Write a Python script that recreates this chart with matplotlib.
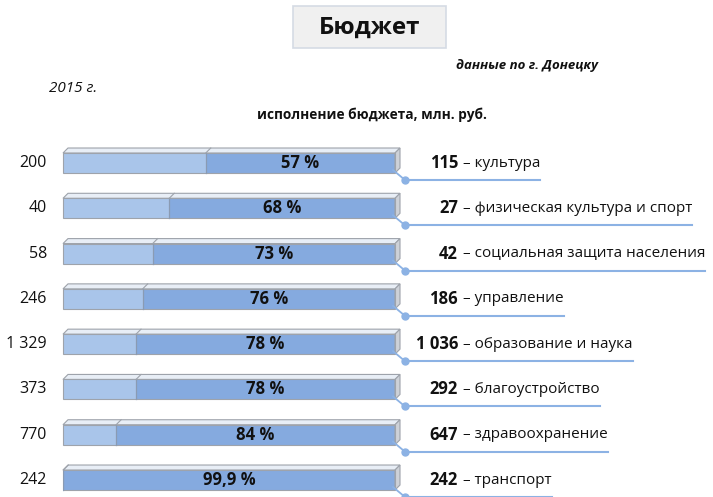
import matplotlib
matplotlib.use("Agg")
import matplotlib.pyplot as plt
from matplotlib.patches import Rectangle, Polygon

plt.rcParams['font.family'] = ['Open Sans', 'DejaVu Sans']

# ---- data ----
categories = ["культура", "физическая культура и спорт", "социальная защита населения",
              "управление", "образование и наука", "благоустройство",
              "здравоохранение", "транспорт"]
plan_labels = ["200", "40", "58", "246", "1 329", "373", "770", "242"]
exec_labels = ["115", "27", "42", "186", "1 036", "292", "647", "242"]
percent = [57, 68, 73, 76, 78, 78, 84, 99.9]
percent_labels = ["57 %", "68 %", "73 %", "76 %", "78 %", "78 %", "84 %", "99,9 %"]

W, H = 713, 497
fig = plt.figure(figsize=(W / 100, H / 100), dpi=100)
fig.patch.set_facecolor('white')

# axes: x 0..100 % of plan, y = row index
ax = fig.add_axes([63 / W, 0, 332 / W, (H - 140) / H])
ax.set_xlim(0, 100)
ax.set_ylim(7.375, -0.508)
ax.axis('off')

px_x = 3.32    # pixels per x unit
px_y = 45.3    # pixels per y unit
hh = 10 / px_y          # half front height
dx = 5 / px_x           # depth offset x
dy = 5 / px_y           # depth offset y

light = '#a9c5ea'
dark = '#85aadf'
top_c = '#e8eef6'
side_c = '#cdd1d8'
edge = '#9ea3ab'
line_c = '#8cb2e4'
txt = '#111111'

name_texts = []
for i, (p, pl) in enumerate(zip(percent, percent_labels)):
    c = i
    start = 100 - p
    ax.add_patch(Rectangle((0, c - hh), start, 2 * hh, facecolor=light,
                           edgecolor='none', zorder=2, clip_on=False))
    ax.add_patch(Rectangle((start, c - hh), p, 2 * hh, facecolor=dark,
                           edgecolor='none', zorder=2, clip_on=False))
    ax.add_patch(Polygon([(0, c - hh), (dx, c - hh - dy), (100 + dx, c - hh - dy), (100, c - hh)],
                         closed=True, facecolor=top_c, edgecolor=edge, lw=0.8, zorder=3,
                         clip_on=False))
    ax.add_patch(Polygon([(100, c - hh), (100 + dx, c - hh - dy), (100 + dx, c + hh - dy), (100, c + hh)],
                         closed=True, facecolor=side_c, edgecolor=edge, lw=0.8, zorder=3,
                         clip_on=False))
    ax.add_patch(Rectangle((0, c - hh), 100, 2 * hh, facecolor='none',
                           edgecolor=edge, lw=0.8, zorder=4, clip_on=False))
    if p < 100:
        ax.plot([start, start], [c - hh, c + hh], color='#8a9bb3', lw=0.9, zorder=4)
        ax.plot([start, start + dx], [c - hh, c - hh - dy], color=edge, lw=0.8, zorder=4,
                clip_on=False)
    ax.text(start + p / 2, c, pl, ha='center', va='center', fontsize=12,
            fontweight='bold', color=txt, zorder=5)
    ax.text(-16 / px_x, c, plan_labels[i], ha='right', va='center', fontsize=11.5,
            color=txt, clip_on=False)
    ax.text((458 - 63) / px_x, c, exec_labels[i], ha='right', va='center', fontsize=12,
            fontweight='bold', color=txt, clip_on=False)
    t = ax.text((459 - 63) / px_x, c, " – " + categories[i], ha='left', va='center',
                fontsize=11, color=txt, clip_on=False)
    name_texts.append(t)

# header texts
fig.add_artist(Rectangle((293 / W, 1 - 48 / H), 153 / W, 42 / H, transform=fig.transFigure,
                         facecolor='#f0f0f0', edgecolor='#d5dbe4', lw=1.2))
fig.text(370 / W, 1 - 28 / H, "Бюджет", ha='center', va='center', fontsize=17.5,
         fontweight='bold', color=txt)
fig.text(598 / W, 1 - 65 / H, "данные по г. Донецку", ha='right', va='center',
         fontsize=9.5, fontweight='bold', style='italic', color=txt)
fig.text(49 / W, 1 - 88 / H, "2015 г.", ha='left', va='center', fontsize=11,
         style='italic', color=txt)
fig.text(372 / W, 1 - 115 / H, "исполнение бюджета, млн. руб.", ha='center', va='center',
         fontsize=9.8, fontweight='bold', color=txt)

# connectors ending at the text's right edge
fig.canvas.draw()
renderer = fig.canvas.get_renderer()
inv = ax.transData.inverted()
for i, t in enumerate(name_texts):
    bb = t.get_window_extent(renderer=renderer)
    x_end = inv.transform((bb.x1, 0))[0]
    c = i
    x_dot = (405 - 63) / px_x
    y_line = c + 17 / px_y
    ax.plot([100 - 0.6, x_dot], [c + hh - 3 / px_y, y_line], color=line_c, lw=1.3,
            clip_on=False, zorder=6)
    ax.plot([x_dot, x_end], [y_line, y_line], color=line_c, lw=1.5, clip_on=False, zorder=6)
    ax.plot([x_dot], [y_line], marker='o', ms=5, color=line_c, clip_on=False, zorder=7)

fig.savefig("out.png", dpi=100, facecolor='white')
